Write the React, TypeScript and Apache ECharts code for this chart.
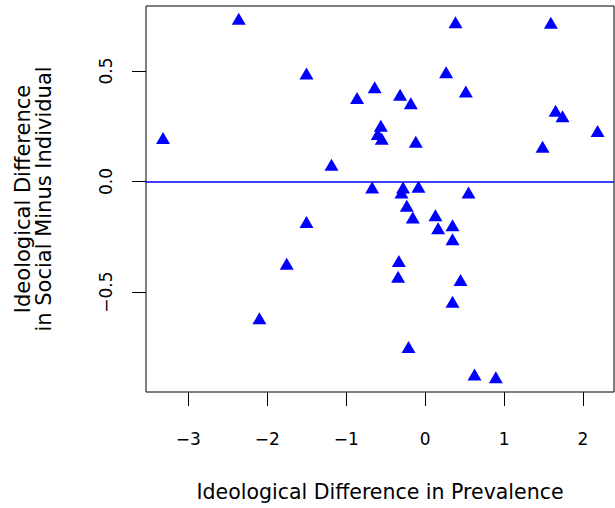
import React, { useEffect, useRef } from "react";
import * as echarts from "echarts";

const xValues = [
  -2.361, -1.503, -0.639, -0.862, -3.32, -1.186, -0.671, 0.385, 1.593, 0.266,
  -0.317, -0.181, 0.516, 1.653, 1.741, 2.185, 1.488, -0.118, -0.561, -0.6,
  -0.549, -0.279, -0.299, -0.084, 0.55, -0.232, -0.156, 0.131, 0.165, 0.347,
  0.347, -0.333, -0.342, 0.449, 0.347, -0.21, 0.626, 0.896, -1.503, -1.753,
  -2.099,
];
const yValues = [
  0.727, 0.48, 0.417, 0.369, 0.188, 0.067, -0.036, 0.712, 0.709, 0.485,
  0.384, 0.345, 0.398, 0.311, 0.286, 0.219, 0.148, 0.171, 0.243, 0.206,
  0.184, -0.036, -0.059, -0.033, -0.059, -0.119, -0.172, -0.161, -0.22, -0.207,
  -0.27, -0.369, -0.44, -0.455, -0.553, -0.757, -0.882, -0.894, -0.192, -0.381,
  -0.628,
];
const xTicks = [-3, -2, -1, 0, 1, 2];
const yTicks = [-0.5, 0, 0.5];
const xTitle = "Ideological Difference in Prevalence";
const yTitleLines = ["Ideological Difference", "in Social Minus Individual"];
const refLineY = 0;

const minus = (s: string) => s.replace("-", "\u2212");

export default function App() {
  const ref = useRef<HTMLDivElement>(null);
  useEffect(() => {
    const chart = echarts.init(ref.current!, null, { renderer: "svg" });
    const points = xValues.map((x, i) => [x, yValues[i]]);
    chart.setOption({
      animation: false,
      grid: {
        left: 146,
        top: 6,
        width: 468,
        height: 386,
        show: true,
        borderColor: "#000",
        borderWidth: 1,
        backgroundColor: "transparent",
      },
      xAxis: {
        type: "value",
        min: -3.536,
        max: 2.393,
        splitLine: { show: false },
        axisLine: { show: false, onZero: false },
        axisTick: {
          show: true,
          length: 14,
          customValues: xTicks,
          lineStyle: { color: "#000", width: 1 },
        },
        axisLabel: {
          customValues: xTicks,
          formatter: (v: number) => minus(String(v)),
          margin: 38,
          fontFamily: "DejaVu Sans",
          fontSize: 17,
          color: "#000",
        },
        name: xTitle,
        nameLocation: "middle",
        nameGap: 89,
        nameTextStyle: { fontFamily: "DejaVu Sans", fontSize: 20.5, color: "#000" },
      },
      yAxis: {
        type: "value",
        min: -0.952,
        max: 0.794,
        splitLine: { show: false },
        axisLine: { show: false, onZero: false },
        axisTick: {
          show: true,
          length: 14,
          customValues: yTicks,
          lineStyle: { color: "#000", width: 1 },
        },
        axisLabel: {
          customValues: yTicks,
          rotate: 90,
          formatter: (v: number) => minus(v.toFixed(1)),
          margin: 32,
          fontFamily: "DejaVu Sans",
          fontSize: 17,
          color: "#000",
        },
        name: yTitleLines.join("\n"),
        nameLocation: "middle",
        nameGap: 92,
        nameTextStyle: {
          fontFamily: "DejaVu Sans",
          fontSize: 21,
          lineHeight: 21,
          color: "#000",
        },
      },
      series: [
        {
          type: "scatter",
          data: points,
          symbol: "triangle",
          symbolSize: [14, 12],
          symbolOffset: [0, -2],
          itemStyle: { color: "#0000FF", opacity: 1 },
          markLine: {
            silent: true,
            symbol: ["none", "none"],
            label: { show: false },
            lineStyle: { color: "#0000FF", width: 1.6, type: "solid", opacity: 1 },
            data: [{ yAxis: refLineY }],
          },
        },
      ],
    });
    return () => chart.dispose();
  }, []);
  return (
    <div
      ref={ref}
      style={{ position: "fixed", left: 0, top: 0, width: 615, height: 508, background: "#fff" }}
    />
  );
}
